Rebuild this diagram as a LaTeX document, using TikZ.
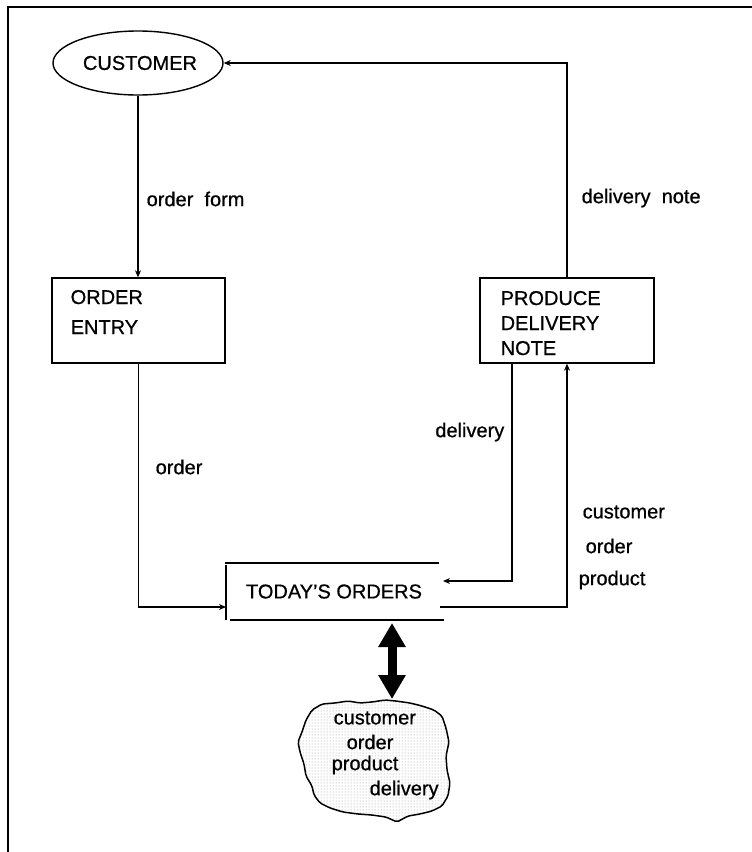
\documentclass[tikz,border=0pt]{standalone}
\usepackage{fontspec}
\setmainfont{Liberation Sans}[FakeBold=0.7]
\usetikzlibrary{arrows.meta,patterns,shapes.geometric}
\begin{document}
\begin{tikzpicture}[x=1pt,y=-1pt, line width=1.4pt,
  txt/.style={font=\fontsize{20}{24}\selectfont, inner sep=0pt},
  flow/.style={-{Stealth[length=7pt,width=6pt]}},
  box/.style={draw, minimum width=173pt, minimum height=85pt, inner sep=0pt}]
\useasboundingbox (0,0) rectangle (752,852);
% frame
\draw[line width=2pt] (8,852) -- (8,7) -- (752,7);
% customer
\node[draw, ellipse, minimum width=170pt, minimum height=64pt, inner sep=0pt] (cust) at (138,63) {};
\node[txt] (custt) at (140,63) {CUSTOMER};
% order entry
\node[box] (oe) at (138.5,320.5) {};
\node[txt, anchor=base west] (oet1) at (70,304) {ORDER};
\node[txt, anchor=base west] (oet2) at (70,334) {ENTRY};
% produce delivery note
\node[box, minimum width=174pt] (pdn) at (567,320.5) {};
\node[txt, anchor=base west] (pdnt1) at (500,305) {PRODUCE};
\node[txt, anchor=base west] (pdnt2) at (500,330) {DELIVERY};
\node[txt, anchor=base west] (pdnt3) at (500,355) {NOTE};
% store
\node[txt, minimum width=216pt, minimum height=57pt] (store) at (334,591.5) {TODAY{\char39}S\ ORDERS};
\draw (225,563) -- (439,563);
\draw (230,620) -- (444,620);
\draw (226,565) -- (226,620);
% named ends
\coordinate (storein) at (226,607);
\coordinate (dlvout) at (512,363);
\coordinate (dlvin) at (443,581);
\coordinate (copout) at (440,607);
\coordinate (arrtop) at (392,623);
\coordinate (arrbot) at (392,699);
% connectors
\draw[flow] (cust.south) -- (cust.south |- oe.north);
\draw[flow] (oe.south) |- (storein);
\draw[flow] (dlvout) |- (dlvin);
\draw[flow] (copout) -| (pdn.south);
\draw[flow] (pdn.north) |- (cust.east);
% labels
\node[txt, anchor=west] (lof) at (146,199) {order\ \ form};
\node[txt, anchor=west] (ldn) at (581,198) {delivery\ \ note};
\node[txt, anchor=west] (lo) at (155,467) {order};
\node[txt, anchor=east] (ld) at (505,432) {delivery};
\node[txt, anchor=west] (lc1) at (582,512) {customer};
\node[txt, anchor=west] (lc2) at (585,546) {order};
\node[txt, anchor=west] (lc3) at (578,580) {product};
% thick double arrow
\draw[line width=9pt, {Triangle[length=24pt,width=26pt]}-{Triangle[length=24pt,width=26pt]}] (arrtop) -- (arrbot);
% cloud
\draw[line width=1.5pt, pattern=dots, pattern color=gray!80, rounded corners=2pt]
 (312,710) -- (322,704) -- (335,703) -- (348,701) -- (360,703) -- (372,702) -- (385,700)
 -- (396,701) -- (410,703) -- (422,706) -- (434,710) -- (442,716) -- (446,728)
 -- (449,742) -- (446,756) -- (447,770) -- (450,783) -- (448,796) -- (442,806)
 -- (432,811) -- (420,814) -- (408,816) -- (397,822) -- (386,817) -- (372,815)
 -- (358,814) -- (343,812) -- (330,808) -- (320,803) -- (314,795) -- (312,786)
 -- (306,776) -- (304,764) -- (300,752) -- (298,742) -- (302,732) -- (306,720) -- cycle;
\node[txt, anchor=west] (ct1) at (333,718) {customer};
\node[txt, anchor=west] (ct2) at (346,742) {order};
\node[txt, anchor=west] (ct3) at (331,765) {product};
\node[txt, anchor=west] (ct4) at (369,790) {delivery};
\end{tikzpicture}
\end{document}
